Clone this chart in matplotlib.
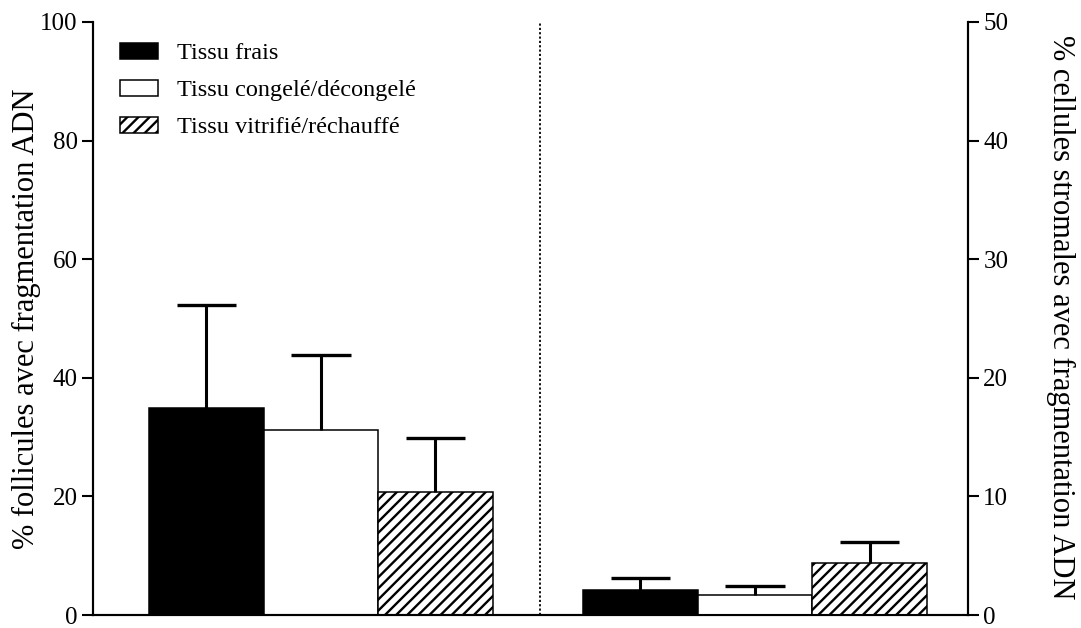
import matplotlib
matplotlib.use('Agg')
import matplotlib.pyplot as plt
from matplotlib.patches import Patch

plt.rcParams['font.family'] = ['Liberation Serif', 'DejaVu Serif']
plt.rcParams['hatch.linewidth'] = 1.7

# données
groupes = ['Tissu frais', 'Tissu congelé/décongelé', 'Tissu vitrifié/réchauffé']
follicules = [34.9, 31.2, 20.8]
follicules_err = [17.4, 12.7, 9.0]
stroma = [2.1, 1.66, 4.41]
stroma_err = [1.05, 0.81, 1.72]

couleurs = ['black', 'white', 'white']
hachures = [None, None, '///']

fig = plt.figure(figsize=(10.81, 6.28), dpi=100)
ax = fig.add_axes([0.086, 0.0207, 0.8095, 0.9443])
ax2 = ax.twinx()

x_gauche = [0, 1, 2]
x_droite = [3.79, 4.79, 5.79]
demi_cap = 0.26


def barre(a, x, h, err, i):
    a.bar(x, h, width=1.0, color=couleurs[i], edgecolor='black',
          linewidth=1.1, hatch=hachures[i], zorder=2)
    # barre d'erreur vers le haut seulement
    a.vlines(x, h, h + err, color='black', linewidth=2.2, zorder=3)
    a.hlines(h + err, x - demi_cap, x + demi_cap, color='black',
             linewidth=2.4, zorder=3)


for i in range(3):
    barre(ax, x_gauche[i], follicules[i], follicules_err[i], i)
    barre(ax2, x_droite[i], stroma[i], stroma_err[i], i)

ax.axvline(2.91, color='black', linestyle=(0, (1.2, 1.2)), linewidth=1.3)

ax.set_xlim(-0.99, 6.65)
ax.set_ylim(0, 100)
ax2.set_ylim(0, 50)
ax.set_xticks([])
ax.set_yticks([0, 20, 40, 60, 80, 100])
ax2.set_yticks([0, 10, 20, 30, 40, 50])

for a in (ax, ax2):
    a.spines['top'].set_visible(False)
    a.tick_params(axis='y', length=8, width=1.5, labelsize=18, pad=3)
    for s in a.spines.values():
        s.set_linewidth(1.5)

fig.text(26 / 1081, 0.492, '% follicules avec fragmentation ADN', fontsize=22,
         rotation=90, ha='center', va='center')
fig.text(1061 / 1081, 0.495, '% cellules stromales avec fragmentation ADN',
         fontsize=22, rotation=270, ha='center', va='center')

handles = [Patch(facecolor=couleurs[i], edgecolor='black', linewidth=1.1,
                 hatch=hachures[i]) for i in range(3)]
ax.legend(handles, groupes, loc='upper left', bbox_to_anchor=(0.017, 0.985),
          frameon=False, fontsize=17.5, handlelength=1.56, handleheight=0.62,
          labelspacing=0.64, handletextpad=0.8, borderpad=0)

fig.savefig('out.png', dpi=100)
